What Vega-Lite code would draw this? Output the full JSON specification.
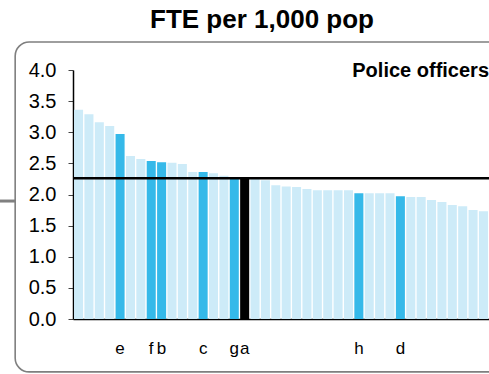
{
  "$schema": "https://vega.github.io/schema/vega-lite/v6.json",
  "width": 416,
  "height": 249,
  "autosize": "none",
  "padding": {"left": 73, "top": 70, "right": 0, "bottom": 55},
  "background": "white",
  "config": {
    "view": {"stroke": null},
    "font": "Liberation Sans",
    "axisY": {"labelOverlap": false, "grid": false, "domainColor": "black", "domainWidth": 1.5, "tickColor": "#444", "tickSize": 5, "labelPadding": 12, "labelFont": "Liberation Sans", "labelFontSize": 20, "labelColor": "black", "title": null, "format": ".1f", "values": [0, 0.5, 1, 1.5, 2, 2.5, 3, 3.5, 4]}
  },
  "title": {"text": "FTE per 1,000 pop", "font": "Liberation Sans", "fontSize": 26, "fontWeight": "bold", "color": "black", "frame": "group", "anchor": "middle", "dx": -19, "offset": 8},
  "datasets": {
    "bars": [
      {"name": "x01", "value": 3.36, "group": "other"},
      {"name": "x02", "value": 3.29, "group": "other"},
      {"name": "x03", "value": 3.16, "group": "other"},
      {"name": "x04", "value": 3.10, "group": "other"},
      {"name": "e", "value": 2.97, "group": "highlight"},
      {"name": "x06", "value": 2.62, "group": "other"},
      {"name": "x07", "value": 2.57, "group": "other"},
      {"name": "f", "value": 2.54, "group": "highlight"},
      {"name": "b", "value": 2.52, "group": "highlight"},
      {"name": "x10", "value": 2.51, "group": "other"},
      {"name": "x11", "value": 2.49, "group": "other"},
      {"name": "x12", "value": 2.36, "group": "other"},
      {"name": "c", "value": 2.36, "group": "highlight"},
      {"name": "x14", "value": 2.34, "group": "other"},
      {"name": "x15", "value": 2.30, "group": "other"},
      {"name": "g", "value": 2.26, "group": "highlight"},
      {"name": "a", "value": 2.25, "group": "selected"},
      {"name": "x18", "value": 2.25, "group": "other"},
      {"name": "x19", "value": 2.23, "group": "other"},
      {"name": "x20", "value": 2.15, "group": "other"},
      {"name": "x21", "value": 2.13, "group": "other"},
      {"name": "x22", "value": 2.12, "group": "other"},
      {"name": "x23", "value": 2.09, "group": "other"},
      {"name": "x24", "value": 2.07, "group": "other"},
      {"name": "x25", "value": 2.07, "group": "other"},
      {"name": "x26", "value": 2.07, "group": "other"},
      {"name": "x27", "value": 2.07, "group": "other"},
      {"name": "h", "value": 2.02, "group": "highlight"},
      {"name": "x29", "value": 2.02, "group": "other"},
      {"name": "x30", "value": 2.02, "group": "other"},
      {"name": "x31", "value": 2.02, "group": "other"},
      {"name": "d", "value": 1.97, "group": "highlight"},
      {"name": "x33", "value": 1.96, "group": "other"},
      {"name": "x34", "value": 1.96, "group": "other"},
      {"name": "x35", "value": 1.91, "group": "other"},
      {"name": "x36", "value": 1.88, "group": "other"},
      {"name": "x37", "value": 1.83, "group": "other"},
      {"name": "x38", "value": 1.81, "group": "other"},
      {"name": "x39", "value": 1.75, "group": "other"},
      {"name": "x40", "value": 1.73, "group": "other"}
    ],
    "box": [{"x": -0.139, "x2": 1.03, "y": 4.45, "y2": -0.85}],
    "stub": [{"x": -0.2, "x2": -0.139, "y": 1.895}],
    "mean": [{"y": 2.26}],
    "label": [{"x": 1.0, "y": 3.98, "text": "Police officers"}]
  },
  "layer": [
    {
      "data": {"name": "bars"},
      "mark": {"type": "bar"},
      "encoding": {
        "x": {
          "field": "name", "type": "nominal", "sort": null,
          "scale": {"paddingInner": 0.13, "paddingOuter": 0.1},
          "axis": {"title": null, "labelAngle": 0, "labelExpr": "length(datum.label) == 1 ? datum.label : ''", "ticks": false, "tickSize": 0, "labelPadding": 21, "labelFont": "Liberation Sans", "labelFontSize": 17, "labelColor": "black", "domainColor": "black", "domainWidth": 1.5}
        },
        "y": {"field": "value", "type": "quantitative", "scale": {"domain": [0, 4]}, "axis": {"title": null, "values": [0, 0.5, 1, 1.5, 2, 2.5, 3, 3.5, 4], "labelOverlap": false}},
        "color": {"field": "group", "type": "nominal", "scale": {"domain": ["other", "highlight", "selected"], "range": ["#cdebf8", "#35b9e9", "#000000"]}, "legend": null}
      }
    },
    {
      "data": {"name": "box"},
      "mark": {"type": "rect", "fill": null, "stroke": "#7f7f7f", "strokeWidth": 1.6, "cornerRadius": 14, "clip": false},
      "encoding": {
        "x": {"field": "x", "type": "quantitative", "scale": {"domain": [0, 1]}, "axis": null},
        "x2": {"field": "x2"},
        "y": {"field": "y", "type": "quantitative", "scale": {"domain": [0, 4]}, "axis": {"title": null, "values": [0, 0.5, 1, 1.5, 2, 2.5, 3, 3.5, 4], "labelOverlap": false}},
        "y2": {"field": "y2"}
      }
    },
    {
      "data": {"name": "stub"},
      "mark": {"type": "rule", "stroke": "#808080", "strokeWidth": 3, "clip": false},
      "encoding": {
        "x": {"field": "x", "type": "quantitative", "scale": {"domain": [0, 1]}, "axis": null},
        "x2": {"field": "x2"},
        "y": {"field": "y", "type": "quantitative", "scale": {"domain": [0, 4]}, "axis": {"title": null, "values": [0, 0.5, 1, 1.5, 2, 2.5, 3, 3.5, 4], "labelOverlap": false}}
      }
    },
    {
      "data": {"name": "mean"},
      "mark": {"type": "rule", "stroke": "black", "strokeWidth": 2.5},
      "encoding": {
        "y": {"field": "y", "type": "quantitative", "scale": {"domain": [0, 4]}, "axis": {"title": null, "values": [0, 0.5, 1, 1.5, 2, 2.5, 3, 3.5, 4], "labelOverlap": false}}
      }
    },
    {
      "data": {"name": "label"},
      "mark": {"type": "text", "align": "right", "baseline": "middle", "font": "Liberation Sans", "fontSize": 20, "fontWeight": "bold", "color": "black", "clip": false},
      "encoding": {
        "x": {"field": "x", "type": "quantitative", "scale": {"domain": [0, 1]}, "axis": null},
        "y": {"field": "y", "type": "quantitative", "scale": {"domain": [0, 4]}, "axis": {"title": null, "values": [0, 0.5, 1, 1.5, 2, 2.5, 3, 3.5, 4], "labelOverlap": false}},
        "text": {"field": "text"}
      }
    }
  ],
  "resolve": {"scale": {"x": "independent"}}
}
